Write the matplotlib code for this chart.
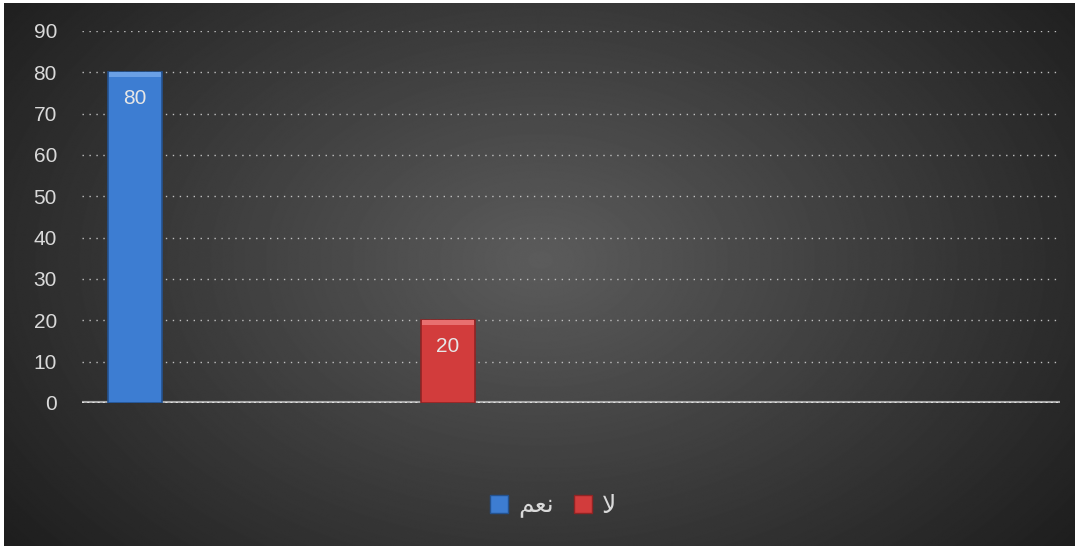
import numpy as np
import matplotlib.pyplot as plt
from matplotlib.patches import Patch

plt.rcParams['font.family'] = ['Liberation Sans', 'DejaVu Sans']

# data
labels = ['\uFEE2\uFECC\uFEE7', '\uFEFB']   # "نعم" and "لا" in shaped (visual) form
values = [80, 20]
colors = ['#3d7dd2', '#d23c3c']
edges = ['#24528f', '#8f2424']
tops = ['#6aa0e6', '#e87070']
yticks = np.arange(0, 100, 10)

W, H = 1079, 550
fig = plt.figure(figsize=(W / 100, H / 100), dpi=100, facecolor='white')

# radial dark background
bg = fig.add_axes((4 / W, 4 / H, (W - 8) / W, (H - 7) / H))
yy, xx = np.mgrid[0:H, 0:W]
r = np.sqrt(((xx - 540) / 620) ** 2 + ((yy - 260) / 420) ** 2)
shade = np.clip(0.36 - 0.22 * r, 0.11, 0.4)
bg.imshow(shade, cmap='gray', vmin=0, vmax=1, aspect='auto', extent=(0, 1, 0, 1))
bg.set_axis_off()

ax = fig.add_axes((82 / W, 1 - 403 / H, (1060 - 82) / W, (403 - 31) / H))
ax.patch.set_alpha(0)

x = np.arange(len(values))
bw = 54 / 313
bars = ax.bar(x, values, width=bw, color=colors, edgecolor=edges, linewidth=1.2, zorder=3)
# light bevel at the top of each bar
ax.bar(x, [1.2] * len(values), bottom=[v - 1.2 for v in values], width=bw * 0.97,
       color=tops, linewidth=0, zorder=4)
for b, v in zip(bars, values):
    ax.text(b.get_x() + b.get_width() / 2, v - 6.3, str(v), ha='center', va='center',
            color='#e6e6e6', fontsize=15, zorder=5)

ax.set_ylim(0, 90)
ax.set_xlim(-53 / 313, 1 + (1060 - 448) / 313)
ax.set_yticks(yticks)
ax.set_xticks([])
ax.tick_params(axis='y', length=0, pad=18, labelsize=15, labelcolor='#d9d9d9')
ax.grid(axis='y', color='#c0c0c0', linestyle=(0, (1, 4)), linewidth=1, zorder=0)
for s in ax.spines.values():
    s.set_visible(False)
ax.axhline(0, color='#a8a8a8', linewidth=3, zorder=2)
ax.axhline(0, color='#e0e0e0', linewidth=1.5, linestyle=(0, (1, 1.5)), zorder=2)

handles = [Patch(facecolor=c, edgecolor=e) for c, e in zip(colors, edges)]
fig.legend(handles, labels, loc='center', bbox_to_anchor=(553 / W, 1 - 506 / H), ncol=2,
           frameon=False, fontsize=18, labelcolor='#d9d9d9', handlelength=0.72,
           handleheight=0.72, handletextpad=0.4, columnspacing=0.8)

fig.savefig('out.png', dpi=100, facecolor=fig.get_facecolor())
